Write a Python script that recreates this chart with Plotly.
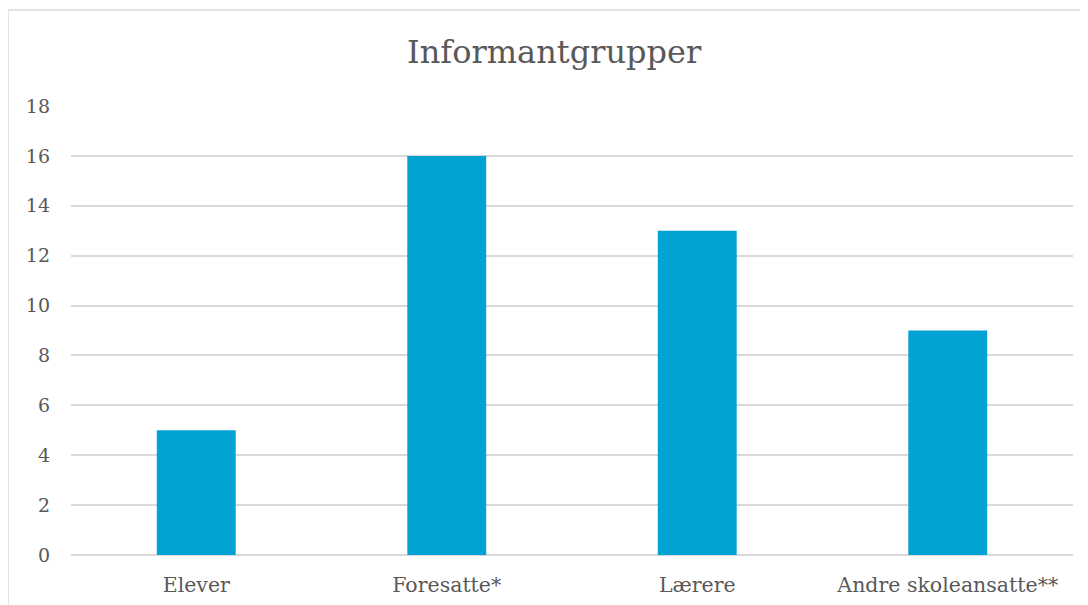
import plotly.graph_objects as go

# Data
categories = ["Elever", "Foresatte*", "Lærere", "Andre skoleansatte**"]
counts = [5, 16, 13, 9]
y_ticks = [0, 2, 4, 6, 8, 10, 12, 14, 16, 18]

BAR_COLOR = "#02A2D5"
TEXT_COLOR = "#595959"
GRID_COLOR = "#D9D9D9"
FONT = "DejaVu Serif"

fig = go.Figure()
fig.add_trace(go.Bar(
    x=categories,
    y=counts,
    marker=dict(color=BAR_COLOR, line=dict(width=0)),
    hoverinfo="x+y",
))

# page body adds an 8px offset, so margins are reduced to compensate
fig.update_layout(
    width=1088,
    height=605,
    paper_bgcolor="white",
    plot_bgcolor="white",
    margin=dict(l=63, r=23, t=98, b=58),
    bargap=0.685,
    showlegend=False,
    font=dict(family=FONT, color=TEXT_COLOR, size=20),
    title=dict(
        text="Informantgrupper",
        x=0.502,
        xanchor="center",
        y=0.928,
        yanchor="middle",
        font=dict(family=FONT, size=32, color=TEXT_COLOR),
    ),
    xaxis=dict(
        showgrid=False,
        showline=False,
        zeroline=False,
        ticks="",
        ticklabelstandoff=15,
        tickfont=dict(size=20.5, color=TEXT_COLOR),
    ),
    yaxis=dict(
        range=[0, 18],
        tickvals=y_ticks,
        showgrid=True,
        gridcolor=GRID_COLOR,
        gridwidth=2,
        zeroline=True,
        zerolinecolor=GRID_COLOR,
        zerolinewidth=2,
        showline=False,
        ticks="",
        ticklabelstandoff=20,
        tickfont=dict(size=19, color=TEXT_COLOR),
    ),
)

# outer chart-area frame (only the left and top edges are visible in the crop)
fig.add_shape(type="line", xref="paper", yref="paper",
              x0=-0.0629, x1=-0.0629, y0=1.2138, y1=-0.2,
              line=dict(color=GRID_COLOR, width=1.5))
fig.add_shape(type="line", xref="paper", yref="paper",
              x0=-0.0629, x1=1.1, y0=1.2138, y1=1.2138,
              line=dict(color=GRID_COLOR, width=1.5))

fig.write_html("out.html")
